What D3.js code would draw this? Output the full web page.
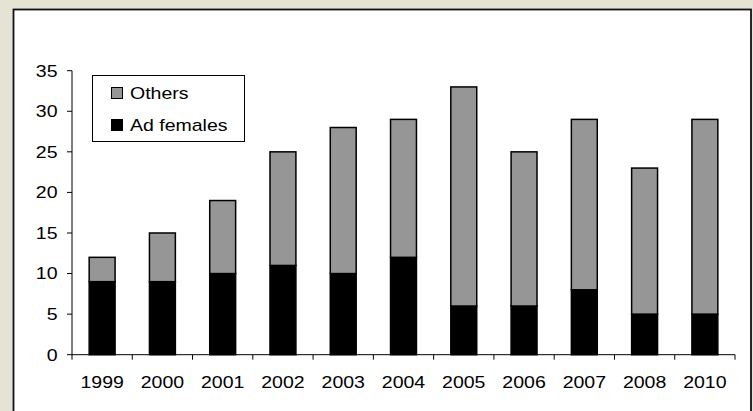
<!DOCTYPE html>
<html><head><meta charset="utf-8">
<script src="https://cdn.jsdelivr.net/npm/d3@7"></script>
<style>
html,body{margin:0;padding:0;background:#e5e4d4;}
svg{display:block;}
text{font-family:"Liberation Sans",Arial,sans-serif;font-size:16px;fill:#000;}
</style></head>
<body>
<script>
const years = ["1999","2000","2001","2002","2003","2004","2005","2006","2007","2008","2010"];
const adFemales = [9,9,10,11,10,12,6,6,8,5,5];
const others = [3,6,9,14,18,17,27,19,21,18,24];
const yTicks = [0,5,10,15,20,25,30,35];
const seriesNames = ["Others","Ad females"];
const seriesColors = ["#969696","#000000"];

const W=753,H=411;
const svg=d3.select("body").append("svg").attr("width",W).attr("height",H);
svg.append("rect").attr("x",0).attr("y",0).attr("width",W).attr("height",H).attr("fill","#e5e4d4");
svg.append("rect").attr("x",13.5).attr("y",9.5).attr("width",737.5).attr("height",420)
  .attr("fill","#fff").attr("stroke","#111").attr("stroke-width",1.8);

const x=d3.scaleBand().domain(years).range([72,735]).paddingInner(0.57).paddingOuter(0.285);
const y=d3.scaleLinear().domain([0,35]).range([354.7,70.7]);

const data=years.map((yr,i)=>({year:yr,ad:adFemales[i],oth:others[i]}));
const stack=d3.stack().keys(["ad","oth"])(data);
const colorFor={ad:seriesColors[1],oth:seriesColors[0]};

stack.forEach(layer=>{
  svg.append("g").selectAll("rect").data(layer).join("rect")
    .attr("x",d=>x(d.data.year))
    .attr("y",d=>y(d[1]))
    .attr("width",x.bandwidth())
    .attr("height",d=>y(d[0])-y(d[1]))
    .attr("fill",colorFor[layer.key])
    .attr("stroke","#000").attr("stroke-width",1.5);
});

// y axis
const gy=svg.append("g");
gy.append("line").attr("x1",72).attr("x2",72).attr("y1",y(35)).attr("y2",y(0)).attr("stroke","#000");
yTicks.forEach(t=>{
  gy.append("line").attr("x1",67).attr("x2",72).attr("y1",y(t)).attr("y2",y(t)).attr("stroke","#000");
  gy.append("text").attr("text-anchor","end")
    .attr("transform",`translate(57.5,${y(t)+5.8}) scale(1.22,1)`).text(t);
});
// x axis
const gx=svg.append("g");
gx.append("line").attr("x1",72).attr("x2",735).attr("y1",y(0)).attr("y2",y(0)).attr("stroke","#000");
const bounds=years.map(v=>x(v)-x.step()*x.paddingInner()/2).concat([735]);
bounds[0]=72;
bounds.forEach(b=>{
  gx.append("line").attr("x1",b).attr("x2",b).attr("y1",y(0)).attr("y2",y(0)+5).attr("stroke","#000");
});
years.forEach(v=>{
  gx.append("text").attr("text-anchor","middle")
    .attr("transform",`translate(${x(v)+x.bandwidth()/2},388.3) scale(1.22,1)`).text(v);
});

// legend
const lg=svg.append("g");
lg.append("rect").attr("x",92.5).attr("y",75.5).attr("width",152).attr("height",66)
  .attr("fill","#fff").attr("stroke","#000").attr("stroke-width",1);
seriesNames.forEach((n,i)=>{
  const yy=87.5+i*32;
  lg.append("rect").attr("x",111.5).attr("y",yy).attr("width",11).attr("height",11)
    .attr("fill",seriesColors[i]).attr("stroke","#000").attr("stroke-width",1);
  lg.append("text").attr("transform",`translate(130,${yy+11.8}) scale(1.22,1)`).text(n);
});
</script>
</body></html>
